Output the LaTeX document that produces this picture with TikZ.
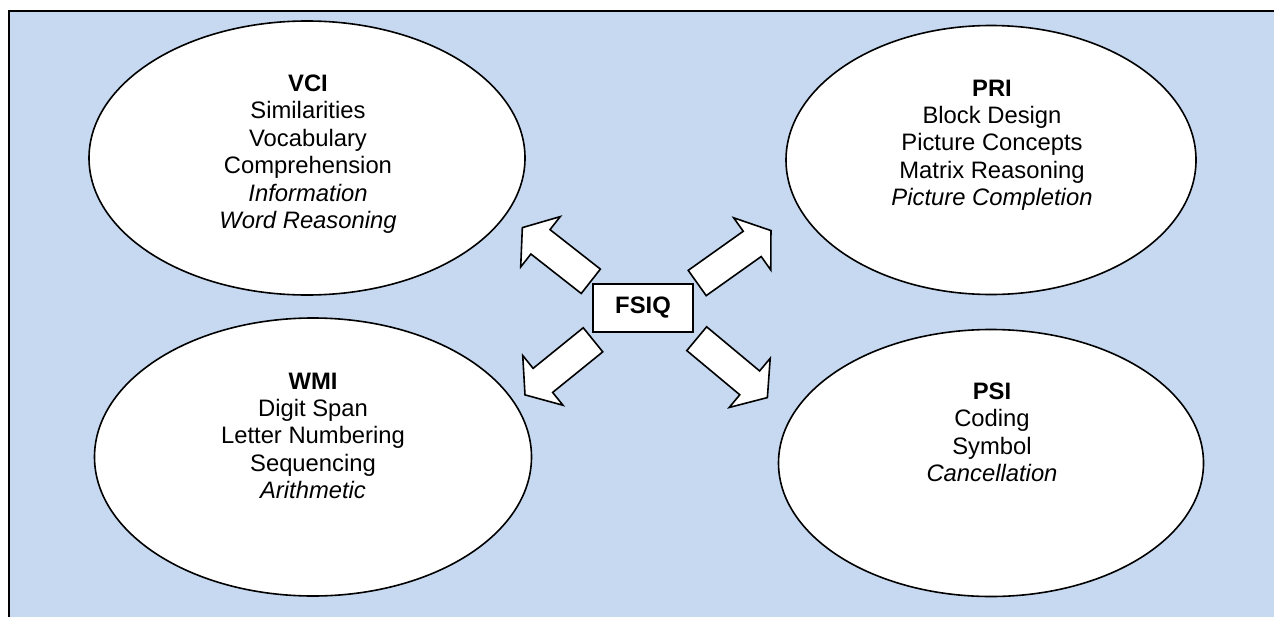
\documentclass[tikz,border=0pt]{standalone}
\usepackage{fontspec}
\setmainfont{Liberation Sans}
\usetikzlibrary{shapes.geometric}
\definecolor{panelblue}{RGB}{198,217,240}
\begin{document}
\begin{tikzpicture}[x=1pt,y=-1pt,
  panelbox/.style={fill=panelblue, draw=black, line width=2.2pt},
  indexellipse/.style={ellipse, draw=black, fill=white, line width=1.6pt, inner sep=0pt},
  indextext/.style={align=center, inner sep=0pt, anchor=north,
    font=\fontsize{23.8pt}{27.4pt}\selectfont},
  hubbox/.style={draw=black, fill=white, line width=2pt, inner sep=0pt,
    minimum width=100pt, minimum height=48pt,
    font=\fontsize{23.8pt}{27.4pt}\selectfont\bfseries},
  blockarrow/.style={draw=black, fill=white, line width=1.6pt, line join=miter},
  pics/fatarrow/.style={code={
    \draw[blockarrow] (0,-15.5) -- (#1,-15.5) -- (#1,-32) -- (#1+23,0)
      -- (#1,32) -- (#1,15.5) -- (0,15.5) -- cycle;}}
]
\useasboundingbox (0,0) rectangle (1274,616);
\clip (0,0) rectangle (1274,616);

% background panel (its right and lower edges run past the page)
\draw[panelbox] (9,11) rectangle (1300,640);

% the four index ellipses
\node[indexellipse, minimum width=436pt, minimum height=274pt] (vci) at (307,158) {};
\node[indexellipse, minimum width=410pt, minimum height=269pt] (pri) at (991,160) {};
\node[indexellipse, minimum width=437pt, minimum height=278pt] (wmi) at (313,457) {};
\node[indexellipse, minimum width=425pt, minimum height=267pt] (psi) at (991,463) {};

% subtest lists, top-aligned inside each ellipse
\node[indextext] (vcitext) at (308,74.6)
  {\textbf{VCI}\\Similarities\\Vocabulary\\Comprehension\\\textit{Information}\\\textit{Word Reasoning}};
\node[indextext] (pritext) at (992,79.6)
  {\textbf{PRI}\\Block Design\\Picture Concepts\\Matrix Reasoning\\\textit{Picture Completion}};
\node[indextext] (wmitext) at (313,372.6)
  {\textbf{WMI}\\Digit Span\\Letter Numbering\\Sequencing\\\textit{Arithmetic}};
\node[indextext] (psitext) at (992,382.6)
  {\textbf{PSI}\\Coding\\Symbol\\\textit{Cancellation}};

% full-scale box in the middle
\node[hubbox] (fsiq) at (643,308) {FSIQ};

% block arrows radiating from the centre
\coordinate (ulbase) at (590.8,281.3);
\coordinate (urbase) at (697.2,283);
\coordinate (llbase) at (593,339.8);
\coordinate (lrbase) at (696.7,338.7);
\pic[rotate=141.9] at (ulbase) {fatarrow=64};
\pic[rotate=35.4]  at (urbase) {fatarrow=67.5};
\pic[rotate=219]   at (llbase) {fatarrow=64.5};
\pic[rotate=-39.8] at (lrbase) {fatarrow=69};
\end{tikzpicture}
\end{document}
